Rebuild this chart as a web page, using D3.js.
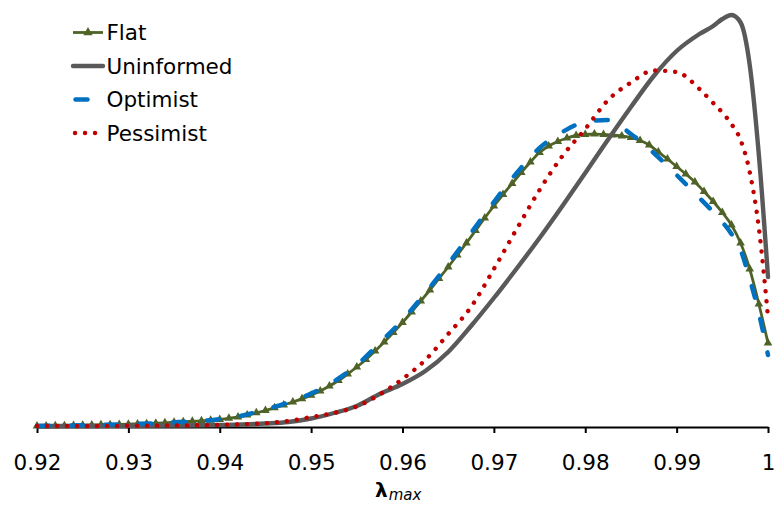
<!DOCTYPE html>
<html>
<head>
<meta charset="utf-8">
<script src="https://cdn.jsdelivr.net/npm/d3@7"></script>
<style>
  html, body { margin: 0; padding: 0; background: #fff; }
  svg { display: block; }
  text { font-family: "DejaVu Sans", Verdana, sans-serif; }
</style>
</head>
<body>
<svg id="chart" width="775" height="506"></svg>
<script>
// ---------------- data ----------------
const seriesNames = ["Flat", "Uninformed", "Optimist", "Pessimist"];

const tickValues = [0.92, 0.93, 0.94, 0.95, 0.96, 0.97, 0.98, 0.99, 1.0];
const tickLabels = ["0.92", "0.93", "0.94", "0.95", "0.96", "0.97", "0.98", "0.99", "1"];

// fine grid (Flat series, one marker per point)
const lambdaFine = [
  0.920, 0.921, 0.922, 0.923, 0.924, 0.925, 0.926, 0.927, 0.928, 0.929,
  0.930, 0.931, 0.932, 0.933, 0.934, 0.935, 0.936, 0.937, 0.938, 0.939,
  0.940, 0.941, 0.942, 0.943, 0.944, 0.945, 0.946, 0.947, 0.948, 0.949,
  0.950, 0.951, 0.952, 0.953, 0.954, 0.955, 0.956, 0.957, 0.958, 0.959,
  0.960, 0.961, 0.962, 0.963, 0.964, 0.965, 0.966, 0.967, 0.968, 0.969,
  0.970, 0.971, 0.972, 0.973, 0.974, 0.975, 0.976, 0.977, 0.978, 0.979,
  0.980, 0.981, 0.982, 0.983, 0.984, 0.985, 0.986, 0.987, 0.988, 0.989,
  0.990, 0.991, 0.992, 0.993, 0.994, 0.995, 0.996, 0.997, 0.998, 0.999,
  1.000
];

const flatValues = [
  0.10, 0.11, 0.12, 0.14, 0.16, 0.18, 0.20, 0.22, 0.24, 0.26,
  0.28, 0.31, 0.34, 0.38, 0.42, 0.47, 0.52, 0.57, 0.62, 0.68,
  0.75, 0.87, 1.00, 1.20, 1.42, 1.65, 1.92, 2.20, 2.50, 2.82,
  3.18, 3.60, 4.10, 4.65, 5.30, 6.00, 6.75, 7.60, 8.50, 9.45,
  10.45, 11.50, 12.60, 13.70, 14.85, 16.00, 17.20, 18.40, 19.65, 20.90,
  22.10, 23.25, 24.35, 25.45, 26.50, 27.45, 28.10, 28.55, 28.90, 29.15,
  29.25, 29.30, 29.25, 29.20, 29.10, 28.95, 28.65, 28.20, 27.50, 26.80,
  26.05, 25.30, 24.50, 23.55, 22.55, 21.45, 20.20, 18.40, 15.80, 12.30,
  8.40
];

// coarse grid (other series)
const lambdaCoarse = [
  0.92, 0.925, 0.93, 0.935, 0.94, 0.9425, 0.945, 0.9475, 0.95, 0.9525,
  0.955, 0.9575, 0.96, 0.9625, 0.965, 0.9675, 0.97, 0.9725, 0.975, 0.9775,
  0.98, 0.9825, 0.985, 0.9875, 0.99, 0.9925, 0.994, 0.995, 0.996, 0.997,
  0.998, 0.999, 1.0
];

const uninformedValues = [
  0.10, 0.10, 0.12, 0.15, 0.20, 0.25, 0.35, 0.50, 0.85, 1.40,
  2.10, 3.30, 4.30, 5.60, 7.50, 10.10, 12.90, 15.85, 18.90, 22.10,
  25.40, 28.75, 32.00, 35.10, 37.60, 39.30, 40.10, 40.80, 41.20, 40.45,
  36.20, 27.20, 15.00
];

const optimistValues = [
  0.10, 0.18, 0.28, 0.47, 0.78, 1.15, 1.75, 2.45, 3.35, 4.55,
  6.20, 8.40, 10.70, 13.40, 16.30, 19.40, 22.50, 25.40, 27.90, 29.50,
  30.50, 30.70, 29.30, 27.40, 25.20, 22.90, 21.50, 20.50, 19.30, 17.70,
  14.80, 11.40, 7.20
];

const pessimistValues = [
  0.10, 0.10, 0.12, 0.15, 0.20, 0.27, 0.38, 0.60, 1.00, 1.40,
  2.05, 3.25, 4.80, 6.70, 9.30, 12.00, 15.80, 19.80, 23.70, 27.10,
  29.80, 32.70, 34.45, 35.65, 35.50, 33.80, 32.40, 31.45, 30.30, 28.70,
  25.50, 19.90, 11.00
];

// ---------------- chart ----------------
const svg = d3.select("#chart");

const x = d3.scaleLinear().domain([0.92, 1.0]).range([37, 768]);
const y = d3.scaleLinear().domain([0, 41.2]).range([427, 15]);

const zipFine = (vals) => lambdaFine.map((l, i) => [l, vals[i]]);
const zipCoarse = (vals) => lambdaCoarse.map((l, i) => [l, vals[i]]);

const line = d3.line()
  .x(d => x(d[0]))
  .y(d => y(d[1]))
  .curve(d3.curveMonotoneX);

const styles = {
  Flat:       { color: "#4f6228", width: 2.8, dash: null, cap: "butt" },
  Uninformed: { color: "#595959", width: 4.4, dash: null, cap: "round" },
  Optimist:   { color: "#0070c0", width: 4.5, dash: "12,22", cap: "round" },
  Pessimist:  { color: "#c00000", width: 4.4, dash: "0.1,9.9", cap: "round" }
};

const seriesData = {
  Flat: zipFine(flatValues),
  Uninformed: zipCoarse(uninformedValues),
  Optimist: zipCoarse(optimistValues),
  Pessimist: zipCoarse(pessimistValues)
};

// axis
const axis = d3.axisBottom(x)
  .tickValues(tickValues)
  .tickFormat((d, i) => tickLabels[i])
  .tickSize(6)
  .tickSizeOuter(0);

const gAxis = svg.append("g")
  .attr("transform", "translate(0,427)")
  .call(axis);
gAxis.select(".domain").attr("stroke", "#000").attr("stroke-width", 2.2);
gAxis.selectAll(".tick line").attr("stroke", "#000").attr("stroke-width", 2);
gAxis.selectAll(".tick text")
  .attr("y", 43).attr("dy", 0)
  .attr("fill", "#000")
  .style("font-family", "'DejaVu Sans', Verdana, sans-serif")
  .style("font-size", "21.5px");

// axis title λmax
const title = svg.append("text")
  .attr("x", 375).attr("y", 497)
  .attr("fill", "#000");
title.append("tspan")
  .attr("font-weight", "bold")
  .attr("font-size", "20px")
  .text("λ");
title.append("tspan")
  .attr("font-style", "italic")
  .attr("font-size", "15px")
  .attr("dy", 3)
  .attr("dx", 1)
  .text("max");

// series
const gSeries = svg.append("g");
seriesNames.forEach(name => {
  const st = styles[name];
  gSeries.append("path")
    .datum(seriesData[name])
    .attr("fill", "none")
    .attr("stroke", st.color)
    .attr("stroke-width", st.width)
    .attr("stroke-linecap", st.cap)
    .attr("stroke-linejoin", "round")
    .attr("stroke-dasharray", st.dash)
    .attr("d", line);
  if (name === "Flat") {
    gSeries.append("g").selectAll("path")
      .data(seriesData[name])
      .join("path")
      .attr("transform", d => `translate(${x(d[0])},${y(d[1])})`)
      .attr("d", d3.symbol(d3.symbolTriangle, 32)())
      .attr("fill", st.color);
  }
});

// legend
const legendY = [32.5, 66, 99.5, 133];
const gLegend = svg.append("g");
seriesNames.forEach((name, i) => {
  const st = styles[name];
  const cy = legendY[i];
  const x0 = name === "Optimist" ? 75.5 : (name === "Pessimist" ? 75 : 73);
  gLegend.append("line")
    .attr("x1", x0).attr("x2", 103)
    .attr("y1", cy).attr("y2", cy)
    .attr("stroke", st.color)
    .attr("stroke-width", st.width)
    .attr("stroke-linecap", st.cap)
    .attr("stroke-dasharray", st.dash);
  if (name === "Flat") {
    gLegend.append("path")
      .attr("transform", `translate(88,${cy})`)
      .attr("d", d3.symbol(d3.symbolTriangle, 38)())
      .attr("fill", st.color);
  }
  gLegend.append("text")
    .attr("x", 106.5).attr("y", cy + 7.8)
    .attr("fill", "#000")
    .style("font-size", "21.5px")
    .text(name);
});
</script>
</body>
</html>
